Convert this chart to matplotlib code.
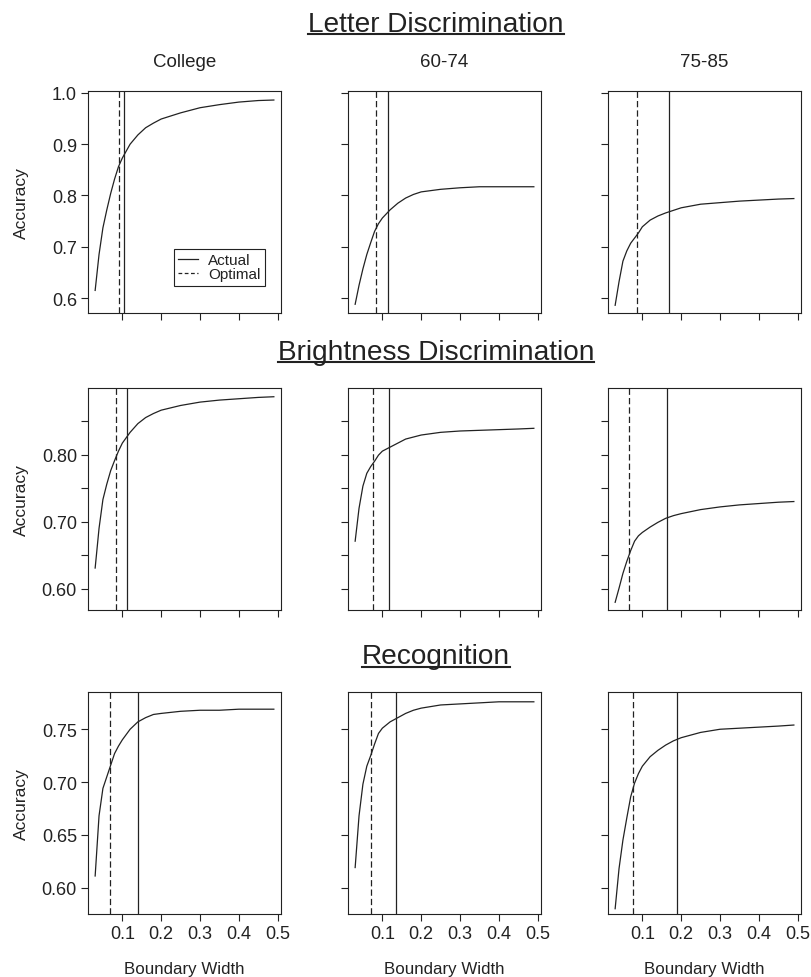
import numpy as np
import matplotlib
matplotlib.use("Agg")
import matplotlib.pyplot as plt
from matplotlib.lines import Line2D

plt.rcParams['font.family'] = ['Liberation Sans', 'DejaVu Sans']

#################################################################
# data
#################################################################

# boundary widths at which the curves were sampled
width = [0.03, 0.04, 0.05, 0.06, 0.07, 0.08, 0.09, 0.10, 0.12, 0.14,
         0.16, 0.18, 0.20, 0.25, 0.30, 0.35, 0.40, 0.45, 0.49]

groups = ["College", "60-74", "75-85"]
tasks = ["Letter Discrimination", "Brightness Discrimination", "Recognition"]

# accuracy curves, one list per group
letter_college = [0.615, 0.685, 0.737, 0.772, 0.804, 0.832, 0.856, 0.873, 0.900, 0.918,
                  0.932, 0.941, 0.949, 0.961, 0.971, 0.977, 0.982, 0.985, 0.986]
letter_6074 = [0.588, 0.625, 0.657, 0.685, 0.708, 0.730, 0.745, 0.756, 0.772, 0.785,
               0.795, 0.802, 0.807, 0.812, 0.815, 0.817, 0.817, 0.817, 0.817]
letter_7585 = [0.586, 0.632, 0.672, 0.692, 0.707, 0.717, 0.727, 0.739, 0.752, 0.760,
               0.766, 0.771, 0.776, 0.783, 0.786, 0.789, 0.791, 0.793, 0.794]

bright_college = [0.631, 0.690, 0.733, 0.756, 0.776, 0.791, 0.805, 0.817, 0.833, 0.846,
                  0.855, 0.861, 0.866, 0.873, 0.878, 0.881, 0.883, 0.885, 0.886]
bright_6074 = [0.671, 0.720, 0.753, 0.772, 0.782, 0.790, 0.799, 0.805, 0.811, 0.817,
               0.823, 0.826, 0.829, 0.833, 0.835, 0.836, 0.837, 0.838, 0.839]
bright_7585 = [0.580, 0.601, 0.623, 0.641, 0.657, 0.671, 0.679, 0.684, 0.692, 0.699,
               0.705, 0.709, 0.712, 0.718, 0.722, 0.725, 0.727, 0.729, 0.730]

recog_college = [0.611, 0.668, 0.694, 0.705, 0.716, 0.727, 0.734, 0.740, 0.750, 0.757,
                 0.761, 0.764, 0.765, 0.767, 0.768, 0.768, 0.769, 0.769, 0.769]
recog_6074 = [0.619, 0.668, 0.698, 0.715, 0.725, 0.736, 0.746, 0.751, 0.757, 0.761,
              0.765, 0.768, 0.770, 0.773, 0.774, 0.775, 0.776, 0.776, 0.776]
recog_7585 = [0.580, 0.618, 0.645, 0.666, 0.686, 0.699, 0.708, 0.715, 0.724, 0.730,
              0.735, 0.739, 0.742, 0.747, 0.750, 0.751, 0.752, 0.753, 0.754]

# boundary widths actually used (solid) and optimal (dashed)
actual_letter = [0.1055, 0.114, 0.168]
optimal_letter = [0.091, 0.083, 0.085]
actual_bright = [0.113, 0.116, 0.163]
optimal_bright = [0.084, 0.075, 0.065]
actual_recog = [0.141, 0.134, 0.190]
optimal_recog = [0.069, 0.0696, 0.0763]

# y ticks per row
yticks_letter = [0.6, 0.7, 0.8, 0.9, 1.0]
ylabels_letter = ["0.6", "0.7", "0.8", "0.9", "1.0"]
yticks_bright = [0.60, 0.65, 0.70, 0.75, 0.80, 0.85]
ylabels_bright = ["0.60", "", "0.70", "", "0.80", ""]
yticks_recog = [0.60, 0.65, 0.70, 0.75]
ylabels_recog = ["0.60", "0.65", "0.70", "0.75"]
xticks = [0.1, 0.2, 0.3, 0.4, 0.5]
xlabels = ["0.1", "0.2", "0.3", "0.4", "0.5"]

curves = [[letter_college, letter_6074, letter_7585],
          [bright_college, bright_6074, bright_7585],
          [recog_college, recog_6074, recog_7585]]
actual = [actual_letter, actual_bright, actual_recog]
optimal = [optimal_letter, optimal_bright, optimal_recog]
yticks = [yticks_letter, yticks_bright, yticks_recog]
ylabels = [ylabels_letter, ylabels_bright, ylabels_recog]

#################################################################
# layout (pixels)
#################################################################
W, H = 811, 978
ylims = [(0.571, 1.003), (0.569, 0.899), (0.575, 0.785)]
xlim = (0.0116, 0.5084)
col_left = [88, 348, 608]
row_top = [92.3, 389, 693.3]
ax_w, ax_h = 193, 221.7
title_x = 436
title_base = [31.7, 360, 664.5]
ink = '#222222'

fig = plt.figure(figsize=(W / 100, H / 100), dpi=100)


def addTitle(text, ybase):
	"""centered, underlined row title"""
	t = fig.text(title_x / W, 1 - ybase / H, text, ha='center', va='baseline', fontsize=20.2, color=ink)
	fig.canvas.draw()
	bb = t.get_window_extent(fig.canvas.get_renderer())
	yline = 1 - (ybase + 3.3) / H
	fig.add_artist(Line2D([bb.x0 / W, bb.x1 / W], [yline, yline], transform=fig.transFigure,
	                      color=ink, lw=1.5))


for r in range(3):
	addTitle(tasks[r], title_base[r])
	for c in range(3):
		ax = fig.add_axes([col_left[c] / W, 1 - (row_top[r] + ax_h) / H, ax_w / W, ax_h / H])
		ax.plot(width, curves[r][c], color=ink, lw=0.9)
		ax.axvline(actual[r][c], color=ink, lw=0.9)
		ax.axvline(optimal[r][c], color=ink, lw=0.9, dashes=(5, 2.5))
		ax.set_xlim(*xlim)
		ax.set_ylim(*ylims[r])
		ax.set_xticks(xticks)
		ax.set_yticks(yticks[r])
		ax.tick_params(direction='out', length=5, width=0.8, color=ink, labelcolor=ink,
		               labelsize=13, pad=3)
		for s in ax.spines.values():
			s.set_color(ink)
			s.set_linewidth(0.8)
		if c == 0:
			ax.set_yticklabels(ylabels[r])
			ax.set_ylabel("Accuracy", fontsize=12.5, color=ink, va='center')
			ax.yaxis.set_label_coords(-0.344, 0.5)
		else:
			ax.set_yticklabels([])
		if r == 2:
			ax.set_xticklabels(xlabels)
			ax.set_xlabel("Boundary Width", fontsize=12.2, color=ink, va='center')
			ax.xaxis.set_label_coords(0.5, -0.2436)
		else:
			ax.set_xticklabels([])
		if r == 0:
			ax.set_title(groups[c], fontsize=13.5, color=ink, pad=18)
		if r == 0 and c == 0:
			handles = [Line2D([], [], color=ink, lw=0.9),
			           Line2D([], [], color=ink, lw=0.9, dashes=(3, 2))]
			leg = ax.legend(handles, ["Actual", "Optimal"], loc='lower right',
			                bbox_to_anchor=(0.918, 0.123), borderaxespad=0, fancybox=False,
			                edgecolor=ink, framealpha=1, fontsize=11, handlelength=1.25,
			                handletextpad=0.7, labelspacing=0.0, borderpad=0.3)
			leg.get_frame().set_linewidth(0.8)
			for txt in leg.get_texts():
				txt.set_color(ink)

fig.savefig("out.png", dpi=100)
